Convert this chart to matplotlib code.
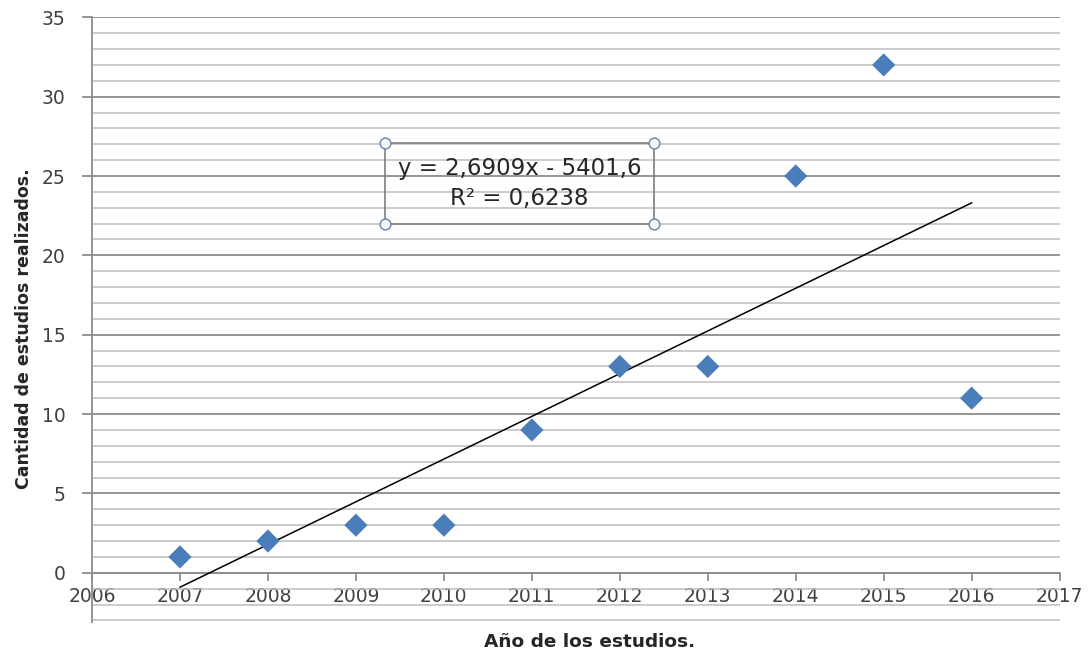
import numpy as np
import matplotlib.pyplot as plt

# estudios por año
years = [2007, 2008, 2009, 2010, 2011, 2012, 2013, 2014, 2015, 2016]
studies = [1, 2, 3, 3, 9, 13, 13, 25, 32, 11]

x_ticks = list(range(2006, 2018))
y_ticks = list(range(0, 36, 5))

fig = plt.figure(figsize=(10.89, 6.53), dpi=100)
ax = fig.add_axes([0.0845, 0.0475, 0.8885, 0.926])

# linear trend (least squares)
slope, intercept = np.polyfit(years, studies, 1)
r2 = np.corrcoef(years, studies)[0, 1] ** 2
xs = np.array([years[0], years[-1]])
ax.plot(xs, slope * xs + intercept, color='black', lw=1.1, zorder=3)

ax.scatter(years, studies, marker='D', s=140, color='#4A7EBB', zorder=4,
           edgecolors='none')

ax.set_xlim(2006, 2017)
ax.set_ylim(-3.1, 35)
ax.set_xticks(x_ticks)
ax.set_yticks(y_ticks)
ax.set_yticks(np.arange(-3, 35, 1), minor=True)

# horizontal grid: every unit, darker every 5
ax.grid(axis='y', which='minor', color='#BDBDBD', lw=1.1)
ax.grid(axis='y', which='major', color='#8C8C8C', lw=1.3)
ax.set_axisbelow(True)

for s in ['top', 'right']:
    ax.spines[s].set_visible(False)
ax.spines['left'].set_color('#8C8C8C')
ax.spines['left'].set_linewidth(1.3)
ax.spines['bottom'].set_position(('data', 0))
ax.spines['bottom'].set_color('#8C8C8C')
ax.spines['bottom'].set_linewidth(1.3)

ax.tick_params(axis='x', which='major', direction='out', length=6, width=1.3,
               color='#8C8C8C', labelsize=13.5, labelcolor='#404040', pad=4)
ax.tick_params(axis='y', which='major', direction='out', length=7, width=1.3,
               color='#8C8C8C', labelsize=13.5, labelcolor='#404040', pad=12)
ax.tick_params(axis='y', which='minor', length=0)

# equation box with corner handles
bx0, bx1, by0, by1 = 2009.33, 2012.39, 21.95, 27.05
ax.plot([bx0, bx1, bx1, bx0, bx0], [by0, by0, by1, by1, by0],
        color='#7F7F7F', lw=1.2, zorder=5)
ax.scatter([bx0, bx1, bx0, bx1], [by0, by0, by1, by1], s=60, marker='o',
           facecolors='#F4F8FC', edgecolors='#6F8FAF', lw=1.1, zorder=6)
eq = 'y = {:.4f}x - {:.1f}'.format(slope, -intercept).replace('.', ',')
r2txt = 'R² = {:.4f}'.format(r2).replace('.', ',')
cx = (bx0 + bx1) / 2
ax.text(cx, 25.5, eq, ha='center', va='center', fontsize=16.5,
        family='DejaVu Sans', color='#262626', zorder=6)
ax.text(cx, 23.6, r2txt, ha='center', va='center', fontsize=16.5,
        family='DejaVu Sans', color='#262626', zorder=6)

fig.text(0.541, 0.017, 'Año de los estudios.', ha='center', va='center',
         fontsize=13.3, fontweight='bold', color='#262626')
fig.text(0.022, 0.497, 'Cantidad de estudios realizados.', ha='center',
         va='center', rotation=90, fontsize=12.5, fontweight='bold',
         color='#262626')

fig.savefig('out.png', dpi=100, facecolor='white')
